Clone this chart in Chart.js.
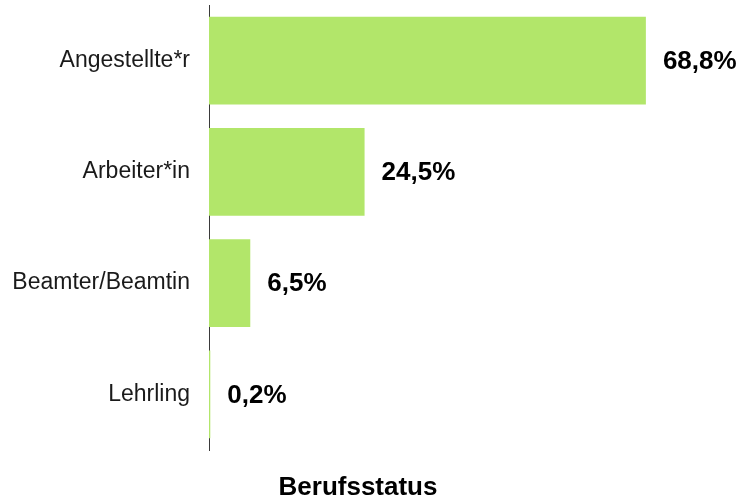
<!DOCTYPE html>
<html>
<head>
<meta charset="utf-8">
<script src="https://cdn.jsdelivr.net/npm/chart.js@4"></script>
<style>
  html, body { margin: 0; padding: 0; background: #fff; }
  #wrap { width: 744px; height: 500px; position: relative; }
</style>
</head>
<body>
<div id="wrap"><canvas id="berufsstatus-chart"></canvas></div>
<script>
  const categories = ['Angestellte*r', 'Arbeiter*in', 'Beamter/Beamtin', 'Lehrling'];
  const shares = [68.8, 24.5, 6.5, 0.2];
  const axisTitle = 'Berufsstatus';

  const pct = (v) => v.toFixed(1).replace('.', ',') + '%';

  const valueLabels = {
    id: 'valueLabels',
    afterDatasetsDraw(chart) {
      const c = chart.ctx;
      const meta = chart.getDatasetMeta(0);
      c.save();
      c.fillStyle = '#000';
      c.font = 'bold 26px "Liberation Sans", Arial, sans-serif';
      c.textBaseline = 'middle';
      c.textAlign = 'left';
      meta.data.forEach((bar, i) => {
        c.fillText(pct(shares[i]), bar.x + 17, bar.y + 1);
      });
      c.restore();
    },
  };

  const bottomTitle = {
    id: 'bottomTitle',
    afterDraw(chart) {
      const c = chart.ctx;
      c.save();
      c.fillStyle = '#000';
      c.font = 'bold 26px "Liberation Sans", Arial, sans-serif';
      c.textBaseline = 'middle';
      c.textAlign = 'center';
      c.fillText(axisTitle, 358, 488);
      c.restore();
    },
  };

  new Chart(document.getElementById('berufsstatus-chart').getContext('2d'), {
    type: 'bar',
    data: {
      labels: categories,
      datasets: [{
        data: shares,
        backgroundColor: '#b2e66a',
        borderWidth: 0,
        categoryPercentage: 1,
        barPercentage: 0.79,
      }],
    },
    options: {
      indexAxis: 'y',
      responsive: true,
      maintainAspectRatio: false,
      animation: false,
      layout: { padding: { top: 5, bottom: 50, right: 27, left: 0 } },
      scales: {
        x: { display: false, min: 0, max: 80 },
        y: {
          afterFit: (s) => {
            s.width = 209;
            s.paddingTop = 0;
            s.paddingBottom = 0;
          },
          grid: { display: false, drawTicks: false },
          border: { display: true, color: '#3a3a3a', width: 1 },
          ticks: {
            color: '#1a1a1a',
            padding: 19,
            font: { family: '"Liberation Sans", Arial, sans-serif', size: 23 },
          },
        },
      },
      plugins: {
        legend: { display: false },
        tooltip: { enabled: false },
      },
    },
    plugins: [valueLabels, bottomTitle],
  });
</script>
</body>
</html>
